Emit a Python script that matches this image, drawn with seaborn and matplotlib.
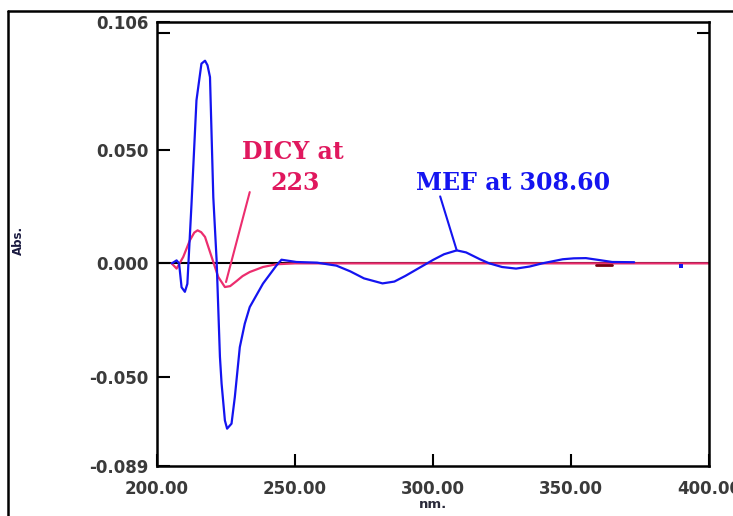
import matplotlib
matplotlib.use("Agg")
import matplotlib.pyplot as plt
from matplotlib.lines import Line2D
import seaborn as sns
import pandas as pd

# ---- data ----
mef_nm = [205.4, 207.1, 208.0, 208.9, 210.1, 211.0, 212.5, 214.3, 216.1, 217.4,
          218.3, 219.2, 220.4, 221.6, 222.8, 223.4, 224.6, 225.4, 227.0, 228.2,
          230.0, 231.8, 233.6, 238.4, 243.3, 245.1, 250.5, 258.0, 265.0, 270.0,
          275.0, 281.7, 286.0, 290.0, 295.0, 300.0, 304.0, 308.6, 312.0, 317.0,
          320.4, 325.0, 330.1, 335.0, 339.6, 347.0, 351.0, 355.4, 360.0, 364.9,
          372.9]
mef_abs = [0.0, 0.0013, 0.0, -0.0105, -0.0125, -0.0090, 0.026, 0.0716, 0.0877, 0.089,
           0.087, 0.0818, 0.029, 0.0013, -0.041, -0.0528, -0.069, -0.0726, -0.0704, -0.0587,
           -0.0368, -0.0265, -0.0192, -0.0089, -0.0009, 0.0016, 0.0006, 0.0003, -0.0010, -0.0035,
           -0.0066, -0.0088, -0.0080, -0.0055, -0.0020, 0.0015, 0.0040, 0.0057, 0.0048, 0.0018,
           0.0, -0.0016, -0.0023, -0.0014, 0.0, 0.0018, 0.0022, 0.0023, 0.0015, 0.0006,
           0.0005]

dicy_nm = [205.3, 207.1, 209.5, 211.9, 213.5, 214.7, 216.0, 217.4, 219.8, 222.2,
           224.6, 226.5, 228.8, 231.0, 233.6, 238.4, 243.3, 250.0, 300.0, 350.0,
           400.0]
dicy_abs = [0.0, -0.0023, 0.0028, 0.0101, 0.0135, 0.0145, 0.0137, 0.0116, 0.0028, -0.0060,
            -0.0104, -0.0100, -0.0078, -0.0056, -0.0038, -0.0016, -0.0004, 0.0, 0.0, 0.0,
            0.0]

minor_nm = [359.0, 365.0]
minor_abs = [-0.0008, -0.0008]
dot_nm = [389.8]
dot_abs = [-0.0010]

x_ticks = [200, 250, 300, 350, 400]
x_ticklabels = ["200.00", "250.00", "300.00", "350.00", "400.00"]
y_ticks = [-0.089, -0.050, 0.0, 0.050, 0.106]
y_ticklabels = ["-0.089", "-0.050", "0.000", "0.050", "0.106"]

BLUE = "#1414F0"
PINK = "#EC2D6E"
TXT_PINK = "#E0185E"

sns.set_theme(style="white")
plt.rcParams['font.family'] = ['DejaVu Sans']

fig = plt.figure(figsize=(7.33, 5.16), dpi=100)
ax = fig.add_axes([157/733, 1 - 466/516, (709 - 157)/733, (466 - 22)/516])

mef = pd.DataFrame({"nm": mef_nm, "abs": mef_abs})
dicy = pd.DataFrame({"nm": dicy_nm, "abs": dicy_abs})

ax.axhline(0, color="black", lw=1.5, zorder=1)
sns.lineplot(data=dicy, x="nm", y="abs", sort=False, color=PINK, lw=1.6, ax=ax, zorder=2)
sns.lineplot(x=minor_nm, y=minor_abs, sort=False, color="#7a0010", lw=2.0, ax=ax, zorder=3)
sns.lineplot(data=mef, x="nm", y="abs", sort=False, color=BLUE, lw=1.6, ax=ax, zorder=4)
sns.scatterplot(x=dot_nm, y=dot_abs, color=BLUE, s=8, marker="s", linewidth=0, ax=ax, zorder=4)

ax.set_xlim(200, 400)
ax.set_ylim(-0.089, 0.106)
ax.set_xticks(x_ticks)
ax.set_xticklabels(x_ticklabels)
ax.set_yticks(y_ticks)
ax.set_yticklabels(y_ticklabels)
ax.set_yticks([0.101], minor=True)

for s in ax.spines.values():
    s.set_color("black")
    s.set_linewidth(1.8)

ax.tick_params(axis="both", which="major", direction="in", length=9, width=1.5,
               color="black", labelsize=12, labelcolor="#3a3a3a")
ax.tick_params(axis="y", which="minor", direction="in", length=9, width=1.5,
               left=True, right=True, color="black")
ax.tick_params(axis="x", which="major", bottom=True, pad=10)
ax.tick_params(axis="y", which="major", left=True, pad=6)
for lab in ax.get_xticklabels() + ax.get_yticklabels():
    lab.set_fontweight("bold")

ax.set_xlabel("nm.", fontsize=9.5, fontweight="bold", color="#2a2a3a", labelpad=0)
ax.set_ylabel("")
fig.text(18/733, 1 - 240/516, "Abs.", rotation=90, fontsize=8.5, fontweight="bold",
         color="#1a1a40", ha="center", va="center")

# annotations
ax.plot([225.0, 233.6], [-0.0082, 0.0313], color=PINK, lw=1.5, zorder=5)
ax.text(293/733, 1 - 152/516, "DICY at", transform=fig.transFigure, ha="center", va="center",
        fontsize=17, fontweight="bold", family="DejaVu Serif", color=TXT_PINK)
ax.text(295/733, 1 - 183/516, "223", transform=fig.transFigure, ha="center", va="center",
        fontsize=17, fontweight="bold", family="DejaVu Serif", color=TXT_PINK)

ax.plot([302.6, 308.6], [0.0294, 0.0057], color=BLUE, lw=1.5, zorder=5)
ax.text(513/733, 1 - 183/516, "MEF at 308.60", transform=fig.transFigure, ha="center", va="center",
        fontsize=17, fontweight="bold", family="DejaVu Serif", color=BLUE)

# outer frame (top and left lines)
fig.add_artist(Line2D([8/733, 1.0], [1 - 11/516, 1 - 11/516], transform=fig.transFigure,
                      color="black", lw=1.8))
fig.add_artist(Line2D([8/733, 8/733], [0.0, 1 - 11/516], transform=fig.transFigure,
                      color="black", lw=1.8))

fig.savefig("out.png", dpi=100)
